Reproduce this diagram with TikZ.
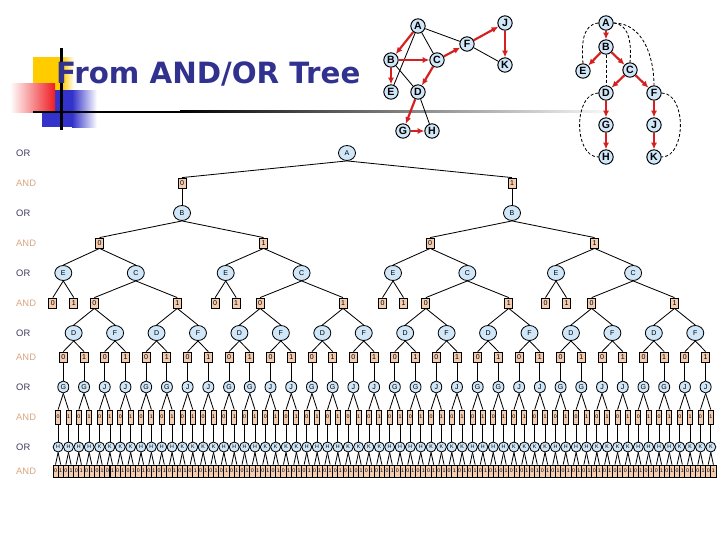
\documentclass[tikz,border=0pt]{standalone}
\usepackage{fontspec}
\setmainfont{Liberation Sans}
\newfontfamily\titlefont{DejaVu Sans}
\usetikzlibrary{shapes,calc,arrows.meta}
\definecolor{orblue}{HTML}{CFE7F8}
\definecolor{andtan}{HTML}{F4CCB0}
\definecolor{arcred}{HTML}{D42020}
\definecolor{titleblue}{HTML}{31318F}
\definecolor{orgray}{HTML}{3C3C5C}
\definecolor{andbrown}{HTML}{D9A57F}
\definecolor{sqyellow}{HTML}{FFCC00}
\definecolor{sqred}{HTML}{EE1D23}
\definecolor{sqblue}{HTML}{3333CC}
\tikzset{
	ornode/.style = {ellipse, draw, fill=orblue, line width=0.25mm, inner sep=0pt,
		minimum width=5.1mm, minimum height=4.5mm, font=\fontsize{6}{6}\selectfont},
	andnode/.style = {rectangle, draw, fill=andtan, line width=0.25mm, inner sep=0pt,
		minimum width=2.4mm, minimum height=3mm, font=\fontsize{6}{6}\selectfont},
	smallor/.style = {ornode, minimum width=3.3mm, minimum height=3.6mm},
	tinyor/.style = {ornode, minimum width=3mm, minimum height=3mm, font=\fontsize{4.5}{4.5}\selectfont},
	slimand/.style = {andnode, minimum width=1.5mm, minimum height=4.2mm, font=\fontsize{4.5}{4.5}\selectfont},
	leafand/.style = {andnode, minimum width=1.55mm, minimum height=3.6mm, font=\fontsize{4.5}{4.5}\selectfont},
	treeline/.style = {line width=0.25mm},
	orlab/.style = {anchor=west, text=orgray, inner sep=0pt, font=\fontsize{8}{8}\selectfont},
	andlab/.style = {orlab, text=andbrown},
	gnode/.style = {circle, draw, fill=orblue, line width=0.3mm, inner sep=0pt,
		minimum size=4.3mm, font=\bfseries\fontsize{9}{9}\selectfont},
	redarc/.style = {draw=arcred, line width=0.65mm, -{Latex[length=2mm,width=1.8mm]}},
	plainarc/.style = {line width=0.25mm},
	backarc/.style = {line width=0.25mm, dash pattern=on 0.9mm off 0.6mm},
}

\begin{document}
\begin{tikzpicture}[x=0.3mm, y=-0.3mm]
	\useasboundingbox (0,0) rectangle (720,540);
	% title corner
	\fill[sqyellow] (33,57) rectangle (62,90);
	\shade[left color=sqyellow, right color=white] (62,57) rectangle (74,90);
	\fill[sqblue] (42,90) rectangle (72,127);
	\shade[left color=sqblue, right color=white] (72,90) rectangle (97,127);
	\shade[left color=white, right color=sqred] (10,83) rectangle (55,112);
	\fill[black] (59.5,48) rectangle (62.5,130);
	\fill[black] (33,110.8) rectangle (180,112.8);
	\shade[left color=black, right color=white] (180,110.8) rectangle (620,112.8);
	\node[anchor=base west, inner sep=0pt, text=titleblue,
		font=\titlefont\bfseries\fontsize{25}{30}\selectfont] (title) at (56,83) {From AND/OR Tree};

	% graph with its search tree marked
	\node[gnode] (gA) at (418,26) {A};
	\node[gnode] (gB) at (391,60) {B};
	\node[gnode] (gC) at (437,60) {C};
	\node[gnode] (gE) at (391,92) {E};
	\node[gnode] (gD) at (418,92) {D};
	\node[gnode] (gF) at (467,44) {F};
	\node[gnode] (gJ) at (505,23) {J};
	\node[gnode] (gK) at (505,65) {K};
	\node[gnode] (gG) at (403,131) {G};
	\node[gnode] (gH) at (432,131) {H};
	\draw[plainarc] (gA) -- (gF);
	\draw[plainarc] (gA) -- (gC);
	\draw[plainarc] (gA) -- (gE);
	\draw[plainarc] (gB) -- (gD);
	\draw[plainarc] (gF) -- (gK);
	\draw[plainarc] (gD) -- (gH);
	\draw[redarc] (gA) -- (gB);
	\draw[redarc] (gB) -- (gC);
	\draw[redarc] (gB) -- (gE);
	\draw[redarc] (gC) -- (gF);
	\draw[redarc] (gC) -- (gD);
	\draw[redarc] (gF) -- (gJ);
	\draw[redarc] (gJ) -- (gK);
	\draw[redarc] (gD) -- (gG);
	\draw[redarc] (gG) -- (gH);

	% the search tree with back edges
	\node[gnode] (tA) at (606,23) {A};
	\node[gnode] (tB) at (606,47) {B};
	\node[gnode] (tE) at (583,71) {E};
	\node[gnode] (tC) at (630,70) {C};
	\node[gnode] (tD) at (606,93) {D};
	\node[gnode] (tF) at (654,93) {F};
	\node[gnode] (tG) at (606,125) {G};
	\node[gnode] (tJ) at (654,125) {J};
	\node[gnode] (tH) at (606,157) {H};
	\node[gnode] (tK) at (654,157) {K};
	\draw[redarc] (tA) -- (tB);
	\draw[redarc] (tB) -- (tE);
	\draw[redarc] (tB) -- (tC);
	\draw[redarc] (tC) -- (tD);
	\draw[redarc] (tC) -- (tF);
	\draw[redarc] (tD) -- (tG);
	\draw[redarc] (tG) -- (tH);
	\draw[redarc] (tF) -- (tJ);
	\draw[redarc] (tJ) -- (tK);
	\draw[backarc] (tA.west) to[out=185, in=95] (tE.north);
	\draw[backarc] (tA.east) to[out=-5, in=85] (tC.north);
	\draw[backarc] (tA.east) to[out=0, in=90] (tF.north);
	\draw[backarc] (tB.south) -- (tD.north);
	\draw[backarc] (tD.west) to[out=180, in=180] (tH.west);
	\draw[backarc] (tF.east) to[out=0, in=0] (tK.east);

	% level names
	\foreach \y/\t/\s [count=\n] in {153/OR/orlab, 183/AND/andlab, 213/OR/orlab, 243/AND/andlab,
		273/OR/orlab, 303/AND/andlab, 333/OR/orlab, 357/AND/andlab, 387/OR/orlab,
		417/AND/andlab, 447/OR/orlab, 471/AND/andlab}
		\node[\s] (row\n) at (16,\y) {\t};

	% AND/OR tree
	\def\xo{63.3}
	\def\uu{20.72}
	\node[ornode] (A) at (347,153) {A};
	\node[andnode] (a0) at (182,183) {0};
	\node[andnode] (a1) at (512,183) {1};
	\node[ornode] (b0) at (182,213) {B};
	\node[ornode] (b1) at (512,213) {B};
	\foreach \s in {0,1}{
		\draw[treeline] (A.south) -- (a\s.north);
		\draw[treeline] (a\s.south) -- (b\s.north);
	}
	\foreach \g/\ex in {0/63.3, 1/225.7, 2/393, 3/556}{
		\pgfmathtruncatemacro\bl{mod(\g,2)}
		\pgfmathtruncatemacro\pa{\g/2}
		\pgfmathsetmacro\cx{\xo+\uu*(8*\g+3.5)}
		\node[andnode] (ba\g) at ({(\ex+\cx)/2},243) {\bl};
		\node[ornode] (e\g) at (\ex,273) {E};
		\node[ornode] (c\g) at (\cx,273) {C};
		\node[andnode] (ea\g0) at ({\ex-10.5},303) {0};
		\node[andnode] (ea\g1) at ({\ex+10.5},303) {1};
		\draw[treeline] (b\pa.south) -- (ba\g.north);
		\draw[treeline] (ba\g.south) -- (e\g.north);
		\draw[treeline] (ba\g.south) -- (c\g.north);
		\draw[treeline] (e\g.south) -- (ea\g0.north);
		\draw[treeline] (e\g.south) -- (ea\g1.north);
	}
	\foreach \q in {0,...,7}{
		\pgfmathtruncatemacro\pa{\q/2}
		\pgfmathtruncatemacro\bl{mod(\q,2)}
		\node[andnode] (ca\q) at ({\xo+\uu*(4*\q+1.5)},303) {\bl};
		\draw[treeline] (c\pa.south) -- (ca\q.north);
	}
	\foreach \m in {0,...,15}{
		\pgfmathtruncatemacro\pa{\m/2}
		\node[ornode] (df\m) at ({\xo+\uu*(2*\m+0.5)},333) {\ifodd\m F\else D\fi};
		\draw[treeline] (ca\pa.south) -- (df\m.north);
	}
	\foreach \i in {0,...,31}{
		\pgfmathtruncatemacro\pa{\i/2}
		\pgfmathtruncatemacro\bl{mod(\i,2)}
		\node[andnode] (an\i) at ({\xo+\uu*\i},357) {\bl};
		\node[smallor] (gj\i) at ({\xo+\uu*\i},387) {\ifodd\pa J\else G\fi};
		\draw[treeline] (df\pa.south) -- (an\i.north);
		\draw[treeline] (an\i.south) -- (gj\i.north);
	}
	\foreach \j in {0,...,63}{
		\pgfmathtruncatemacro\pa{\j/2}
		\pgfmathtruncatemacro\pb{\j/4}
		\pgfmathtruncatemacro\bl{mod(\j,2)}
		\node[slimand] (am\j) at ({\xo+\uu*(\j/2-0.25)},417) {\bl};
		\node[tinyor] (hk\j) at ({\xo+\uu*(\j/2-0.25)},447) {\ifodd\pb K\else H\fi};
		\draw[treeline] (gj\pa.south) -- (am\j.north);
		\draw[treeline] (am\j.south) -- (hk\j.north);
	}
	\foreach \k in {0,...,127}{
		\pgfmathtruncatemacro\pa{\k/2}
		\pgfmathtruncatemacro\bl{mod(\k,2)}
		\node[leafand] (lf\k) at ({\xo+\uu*(\k/4-0.375)},471) {\bl};
		\draw[treeline] (hk\pa.south) -- (lf\k.north);
	}
\end{tikzpicture}
\end{document}
